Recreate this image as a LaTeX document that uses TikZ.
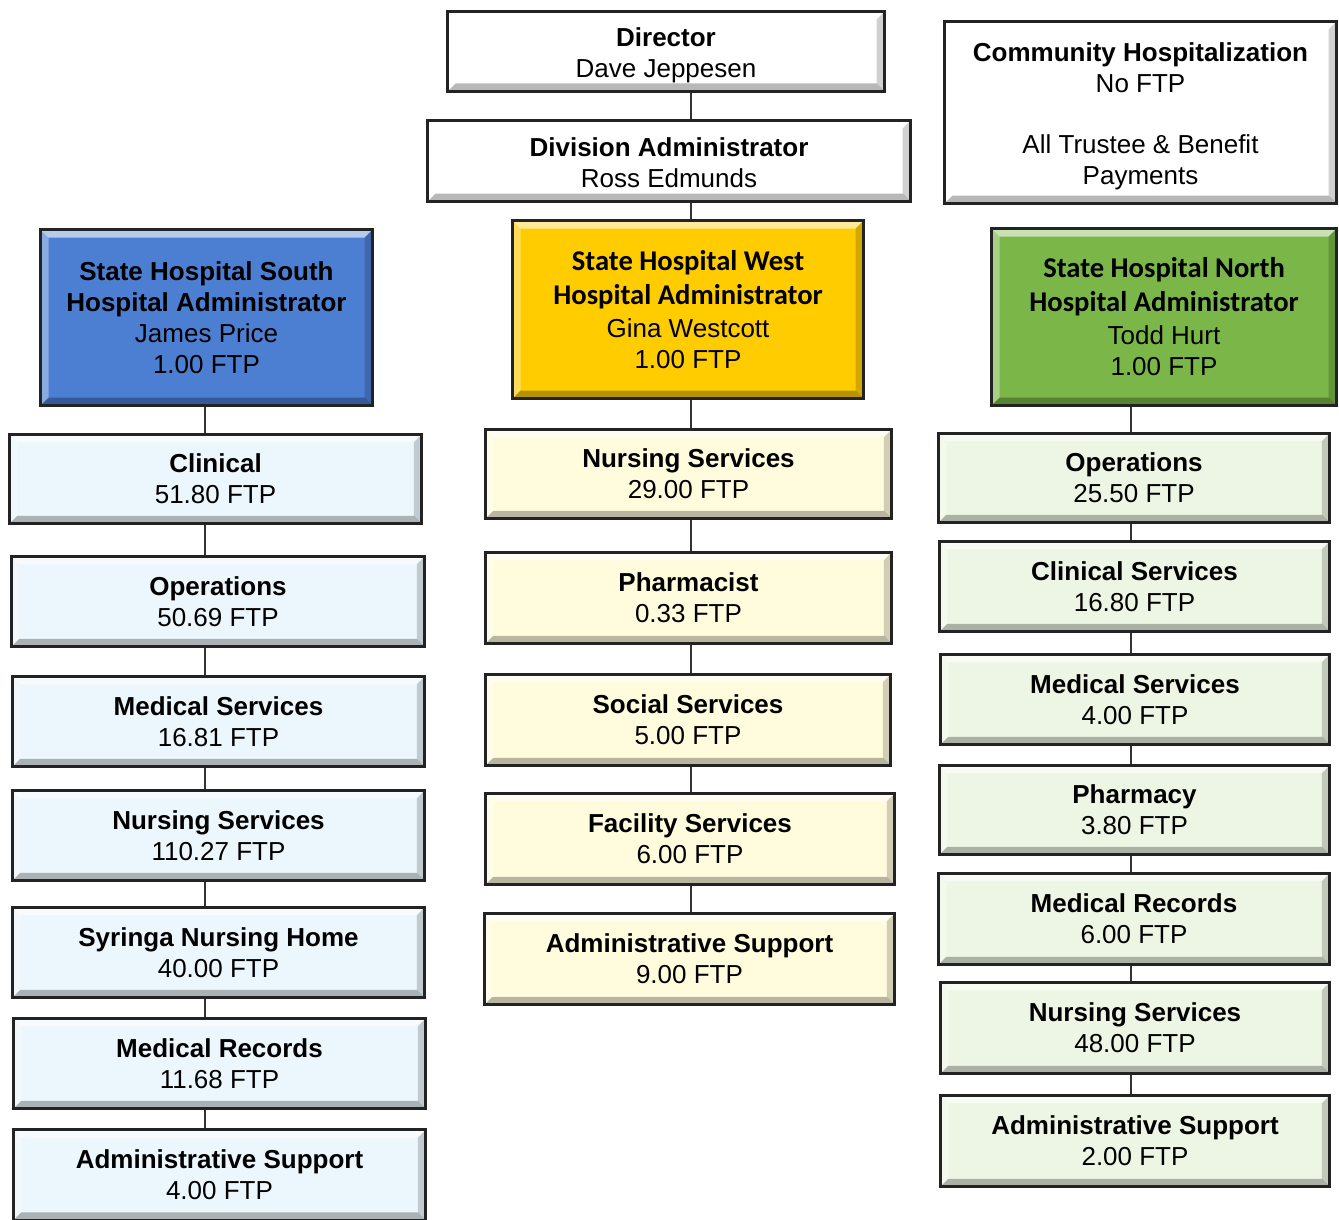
\documentclass[tikz,border=0pt]{standalone}
\usepackage{fontspec}
\setmainfont{Liberation Sans}
\newfontfamily\carlito{Carlito}
\usetikzlibrary{backgrounds}
\definecolor{hblue}{RGB}{76,126,210}
\definecolor{hyellow}{RGB}{255,204,0}
\definecolor{hgreen}{RGB}{122,182,72}
\definecolor{lblue}{RGB}{236,247,253}
\definecolor{lyellow}{RGB}{255,252,222}
\definecolor{lgreen}{RGB}{237,246,228}
\definecolor{edge}{RGB}{35,35,35}
\tikzset{
  sz/.style 2 args={minimum width=#1pt,minimum height=#2pt},
  bevel/.style={path picture={
    \fill[white,opacity=0.6] (path picture bounding box.north west) -- (path picture bounding box.north east)
      -- ([xshift=-8pt,yshift=-8pt]path picture bounding box.north east) -- ([xshift=8pt,yshift=-8pt]path picture bounding box.north west) -- cycle;
    \fill[white,opacity=0.35] (path picture bounding box.north west) -- ([xshift=8pt,yshift=-8pt]path picture bounding box.north west)
      -- ([xshift=8pt,yshift=8pt]path picture bounding box.south west) -- (path picture bounding box.south west) -- cycle;
    \fill[black,opacity=0.28] (path picture bounding box.south west) -- (path picture bounding box.south east)
      -- ([xshift=-8pt,yshift=8pt]path picture bounding box.south east) -- ([xshift=8pt,yshift=8pt]path picture bounding box.south west) -- cycle;
    \fill[black,opacity=0.18] (path picture bounding box.north east) -- (path picture bounding box.south east)
      -- ([xshift=-8pt,yshift=8pt]path picture bounding box.south east) -- ([xshift=-8pt,yshift=-8pt]path picture bounding box.north east) -- cycle;
  }},
  orgbox/.style={draw=edge,line width=2.6pt,bevel,align=center,inner sep=0pt,
    font=\fontsize{26}{31}\selectfont,text=black},
  topbox/.style={orgbox,fill=white},
  sbox/.style={orgbox,fill=lblue},
  wbox/.style={orgbox,fill=lyellow},
  nbox/.style={orgbox,fill=lgreen},
  link/.style={draw=black!80,line width=1.4pt},
}
\newcommand{\ctitle}[1]{{\carlito\bfseries\fontsize{28.6}{34}\selectfont #1}}
\newcommand{\lowr}[1]{\rule{0pt}{#1pt}}
\begin{document}
\begin{tikzpicture}[x=1pt,y=-1pt]
\useasboundingbox (0,0) rectangle (1339,1220);
\coordinate (lx) at (205,0);
\coordinate (mx) at (691,0);
\coordinate (rx) at (1131,0);

% top
\node[topbox,sz={437}{80}] (dir) at (666,51.5) {\lowr{27}\textbf{Director}\\Dave Jeppesen};
\node[topbox,sz={483}{81}] (div) at (669,161) {\lowr{23}\textbf{Division Administrator}\\Ross Edmunds};
\node[topbox,sz={392}{182}] (comm) at (1140.5,112.5) {\lowr{27}\textbf{Community Hospitalization}\\No FTP\\[30pt]All Trustee \& Benefit\\Payments};

% administrators
\node[orgbox,fill=hblue,sz={332}{176}] (sadm) at (206.5,317.5) {\textbf{State Hospital South}\\\textbf{Hospital Administrator}\\James Price\\1.00 FTP};
\node[orgbox,fill=hyellow,sz={351}{178}] (wadm) at (688,309.5) {\ctitle{State Hospital West}\\[3pt]\ctitle{Hospital Administrator}\\[2pt]Gina Westcott\\1.00 FTP};
\node[orgbox,fill=hgreen,sz={345}{177}] (nadm) at (1164,317) {\ctitle{State Hospital North}\\[3pt]\ctitle{Hospital Administrator}\\[2pt]Todd Hurt\\1.00 FTP};

% south column
\node[sbox,sz={412.5}{89.5}] (s1) at (215.5,479) {\textbf{Clinical}\\51.80 FTP};
\node[sbox,sz={413.5}{90.5}] (s2) at (218,601.5) {\textbf{Operations}\\50.69 FTP};
\node[sbox,sz={412.5}{90.5}] (s3) at (218.5,721.5) {\textbf{Medical Services}\\16.81 FTP};
\node[sbox,sz={412.5}{90.5}] (s4) at (218.5,835.5) {\textbf{Nursing Services}\\110.27 FTP};
\node[sbox,sz={412.5}{90.5}] (s5) at (218.5,952.5) {\textbf{Syringa Nursing Home}\\40.00 FTP};
\node[sbox,sz={412.5}{90.5}] (s6) at (219.5,1063.5) {\textbf{Medical Records}\\11.68 FTP};
\node[sbox,sz={412.5}{90.5}] (s7) at (219.5,1175) {\textbf{Administrative Support}\\4.00 FTP};

% west column
\node[wbox,sz={406.5}{89.5}] (w1) at (688.5,474) {\textbf{Nursing Services}\\29.00 FTP};
\node[wbox,sz={406.5}{91.5}] (w2) at (688.5,598) {\textbf{Pharmacist}\\0.33 FTP};
\node[wbox,sz={405.5}{91.5}] (w3) at (688,720) {\textbf{Social Services}\\5.00 FTP};
\node[wbox,sz={409.5}{91.5}] (w4) at (690,839) {\textbf{Facility Services}\\6.00 FTP};
\node[wbox,sz={410.5}{91.5}] (w5) at (689.5,959) {\textbf{Administrative Support}\\9.00 FTP};

% north column
\node[nbox,sz={391.5}{89.5}] (n1) at (1134,478) {\textbf{Operations}\\25.50 FTP};
\node[nbox,sz={390.5}{90.5}] (n2) at (1134.5,586.5) {\textbf{Clinical Services}\\16.80 FTP};
\node[nbox,sz={389.5}{90.5}] (n3) at (1135,699.5) {\textbf{Medical Services}\\4.00 FTP};
\node[nbox,sz={390.5}{89.5}] (n4) at (1134.5,810) {\textbf{Pharmacy}\\3.80 FTP};
\node[nbox,sz={391.5}{91.5}] (n5) at (1134,919) {\textbf{Medical Records}\\6.00 FTP};
\node[nbox,sz={389.5}{91.5}] (n6) at (1135,1028) {\textbf{Nursing Services}\\48.00 FTP};
\node[nbox,sz={389.5}{91.5}] (n7) at (1135,1141) {\textbf{Administrative Support}\\2.00 FTP};

\begin{scope}[on background layer]
  \draw[link] (dir.south -| mx) -- (div.north -| mx);
  \draw[link] (div.south -| mx) -- (wadm.north -| mx);
  \draw[link] (wadm.south -| mx) -- (w1.north -| mx);
  \draw[link] (w1.south -| mx) -- (w2.north -| mx);
  \draw[link] (w2.south -| mx) -- (w3.north -| mx);
  \draw[link] (w3.south -| mx) -- (w4.north -| mx);
  \draw[link] (w4.south -| mx) -- (w5.north -| mx);
  \draw[link] (sadm.south -| lx) -- (s1.north -| lx);
  \draw[link] (s1.south -| lx) -- (s2.north -| lx);
  \draw[link] (s2.south -| lx) -- (s3.north -| lx);
  \draw[link] (s3.south -| lx) -- (s4.north -| lx);
  \draw[link] (s4.south -| lx) -- (s5.north -| lx);
  \draw[link] (s5.south -| lx) -- (s6.north -| lx);
  \draw[link] (s6.south -| lx) -- (s7.north -| lx);
  \draw[link] (nadm.south -| rx) -- (n1.north -| rx);
  \draw[link] (n1.south -| rx) -- (n2.north -| rx);
  \draw[link] (n2.south -| rx) -- (n3.north -| rx);
  \draw[link] (n3.south -| rx) -- (n4.north -| rx);
  \draw[link] (n4.south -| rx) -- (n5.north -| rx);
  \draw[link] (n5.south -| rx) -- (n6.north -| rx);
  \draw[link] (n6.south -| rx) -- (n7.north -| rx);
\end{scope}
\end{tikzpicture}
\end{document}
